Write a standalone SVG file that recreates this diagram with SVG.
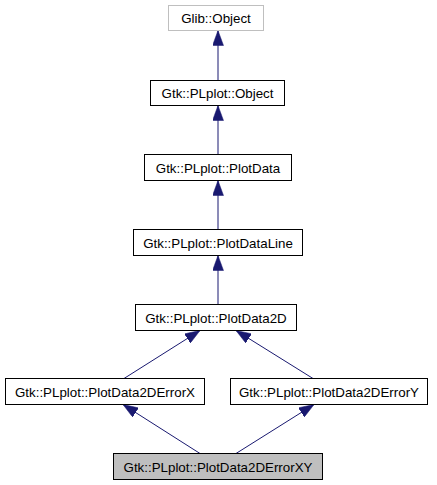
<svg xmlns="http://www.w3.org/2000/svg" width="437" height="485" viewBox="0 0 437 485">
<style>
.n rect{fill:#ffffff;stroke:#000000;stroke-width:1}
.n text{font-family:"Liberation Sans",Arial,sans-serif;font-size:13.33px;text-anchor:middle;fill:#000000}
#glib rect{stroke:#bfbfbf}
#xy rect{fill:#bfbfbf}
.e line{stroke:#191970;stroke-width:1;fill:none}
</style>
<defs>
<marker id="ah" markerUnits="userSpaceOnUse" markerWidth="15" markerHeight="11" refX="15" refY="5.5" orient="auto">
<path d="M0,0 L15,5.5 L0,11 z" fill="#191970" stroke="#191970" stroke-width="0.5"/>
</marker>
</defs>
<rect width="437" height="485" fill="#ffffff"/>
<g id="edges" class="e">
<line x1="218" y1="80.5" x2="218" y2="30.5" marker-end="url(#ah)"/>
<line x1="218" y1="154.5" x2="218" y2="105.5" marker-end="url(#ah)"/>
<line x1="218" y1="229.5" x2="218" y2="180.5" marker-end="url(#ah)"/>
<line x1="218" y1="304.5" x2="218" y2="255.5" marker-end="url(#ah)"/>
<line x1="124" y1="378.5" x2="200" y2="330.5" marker-end="url(#ah)"/>
<line x1="313" y1="378.5" x2="236" y2="330.5" marker-end="url(#ah)"/>
<line x1="200" y1="453.5" x2="123" y2="404.5" marker-end="url(#ah)"/>
<line x1="236" y1="453.5" x2="314" y2="404.5" marker-end="url(#ah)"/>
</g>
<g id="glib" class="n"><rect x="168.5" y="5.5" width="95" height="25"/><text x="216" y="23">Glib::Object</text></g>
<g id="object" class="n"><rect x="150.5" y="80.5" width="134" height="25"/><text x="217.5" y="98">Gtk::PLplot::Object</text></g>
<g id="plotdata" class="n"><rect x="144.5" y="154.5" width="147" height="26"/><text x="218" y="172.5">Gtk::PLplot::PlotData</text></g>
<g id="plotdataline" class="n"><rect x="133.5" y="229.5" width="169" height="26"/><text x="218" y="247.5">Gtk::PLplot::PlotDataLine</text></g>
<g id="plotdata2d" class="n"><rect x="135.5" y="304.5" width="161" height="26"/><text x="216" y="322.5">Gtk::PLplot::PlotData2D</text></g>
<g id="errx" class="n"><rect x="5.5" y="378.5" width="199" height="26"/><text x="105" y="396.5">Gtk::PLplot::PlotData2DErrorX</text></g>
<g id="erry" class="n"><rect x="230.5" y="378.5" width="197" height="26"/><text x="329" y="396.5">Gtk::PLplot::PlotData2DErrorY</text></g>
<g id="xy" class="n"><rect x="113.5" y="453.5" width="209" height="26"/><text x="218" y="471.5">Gtk::PLplot::PlotData2DErrorXY</text></g>
</svg>
